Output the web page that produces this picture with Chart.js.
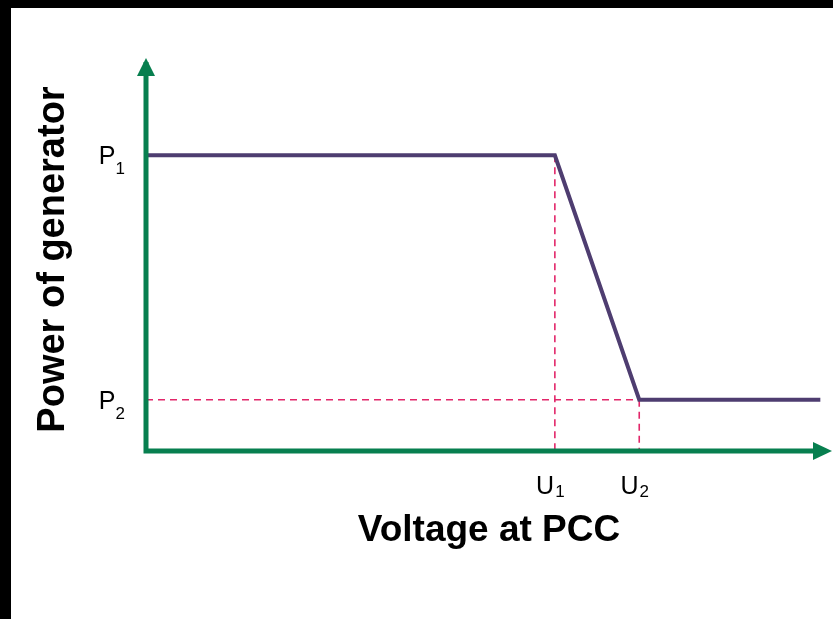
<!DOCTYPE html>
<html>
<head>
<meta charset="utf-8">
<script src="https://cdn.jsdelivr.net/npm/chart.js@4.4.1/dist/chart.umd.min.js"></script>
<style>
  html, body { margin: 0; padding: 0; background: #000; width: 833px; height: 619px; overflow: hidden; }
  #wrap { position: absolute; left: 11px; top: 8px; width: 822px; height: 611px; background: #fff; }
</style>
</head>
<body>
<div id="wrap"><canvas id="droopChart" width="822" height="611"></canvas></div>
<script>
// voltage (x) and power (y) in relative units
const U1 = 0.596, U2 = 0.719, UEND = 0.983;
const P1 = 0.772, P2 = 0.134;
const curveX = [0, U1, U2, UEND];
const curveY = [P1, P1, P2, P2];
const xTicks = [{ v: U1, name: 'U', sub: '1' }, { v: U2, name: 'U', sub: '2' }];
const yTicks = [{ v: P1, name: 'P', sub: '1' }, { v: P2, name: 'P', sub: '2' }];

const green = '#077f4f';
const purple = '#4e3d70';
const red = '#e2276a';

function pts(xs, ys) { return xs.map((x, i) => ({ x: x, y: ys[i] })); }

function dashed(xs, ys) {
    return {
        data: pts(xs, ys),
        showLine: true,
        borderColor: red,
        borderWidth: 1.6,
        borderDash: [7, 5],
        pointRadius: 0,
        order: 2
    };
}

// axes with arrow heads + subscript tick labels
const axesPlugin = {
    id: 'axesPlugin',
    afterDatasetsDraw(chart) {
        const c = chart.ctx, a = chart.chartArea;
        const xs = chart.scales.x, ys = chart.scales.y;
        c.save();
        c.strokeStyle = green;
        c.fillStyle = green;
        c.lineWidth = 5;
        c.beginPath();
        c.moveTo(a.left, a.top - 6);
        c.lineTo(a.left, a.bottom + 2.5);
        c.moveTo(a.left - 2.5, a.bottom);
        c.lineTo(a.right - 16, a.bottom);
        c.stroke();
        // up arrow
        c.beginPath();
        c.moveTo(a.left, a.top - 10);
        c.lineTo(a.left + 9, a.top + 8);
        c.lineTo(a.left - 9, a.top + 8);
        c.closePath();
        c.fill();
        // right arrow
        c.beginPath();
        c.moveTo(a.right, a.bottom);
        c.lineTo(a.right - 19, a.bottom - 9);
        c.lineTo(a.right - 19, a.bottom + 9);
        c.closePath();
        c.fill();

        c.fillStyle = '#000';
        c.textBaseline = 'alphabetic';
        c.textAlign = 'left';
        const big = '25px "Liberation Sans", Arial, sans-serif';
        const small = '17px "Liberation Sans", Arial, sans-serif';
        yTicks.forEach(t => {
            const py = ys.getPixelForValue(t.v);
            c.font = small;
            const ws = c.measureText(t.sub).width;
            c.font = big;
            const wb = c.measureText(t.name).width;
            const right = a.left - 21;
            c.fillText(t.name, right - ws - wb, py + 9);
            c.font = small;
            c.fillText(t.sub, right - ws, py + 19);
        });
        xTicks.forEach(t => {
            const px = xs.getPixelForValue(t.v);
            c.font = small;
            const ws = c.measureText(t.sub).width;
            c.font = big;
            const wb = c.measureText(t.name).width;
            const left = px - 5 - (ws + wb) / 2;
            c.fillText(t.name, left, a.bottom + 43);
            c.font = small;
            c.fillText(t.sub, left + wb + 1, a.bottom + 46);
        });
        c.restore();
    }
};

const ctx = document.getElementById('droopChart').getContext('2d');
const droopChart = new Chart(ctx, {
    type: 'scatter',
    data: {
        datasets: [
            {
                data: pts(curveX, curveY),
                showLine: true,
                borderColor: purple,
                borderWidth: 4,
                pointRadius: 0,
                order: 1
            },
            dashed([U1, U1], [P1, 0]),
            dashed([0, U2], [P2, P2]),
            dashed([U2, U2], [P2, 0])
        ]
    },
    plugins: [axesPlugin],
    options: {
        responsive: false,
        animation: false,
        layout: { padding: { left: 0, top: 60, right: 1, bottom: 0 } },
        plugins: { legend: { display: false }, tooltip: { enabled: false } },
        scales: {
            x: {
                type: 'linear',
                min: 0,
                max: 1,
                grid: { display: false },
                border: { display: false },
                ticks: { display: false },
                title: {
                    display: true,
                    text: 'Voltage at PCC',
                    color: '#000',
                    font: { family: '"Liberation Sans", Arial, sans-serif', size: 37, weight: 'bold' },
                    padding: { top: 0, bottom: 66 }
                },
                afterFit(scale) { scale.height = 168; }
            },
            y: {
                type: 'linear',
                min: 0,
                max: 1,
                grid: { display: false },
                border: { display: false },
                ticks: { display: false },
                title: {
                    display: true,
                    text: 'Power of generator',
                    color: '#000',
                    font: { family: '"Liberation Sans", Arial, sans-serif', size: 38, weight: 'bold' },
                    padding: { top: 20, bottom: 0 }
                },
                afterFit(scale) { scale.width = 135; }
            }
        }
    }
});
</script>
</body>
</html>
